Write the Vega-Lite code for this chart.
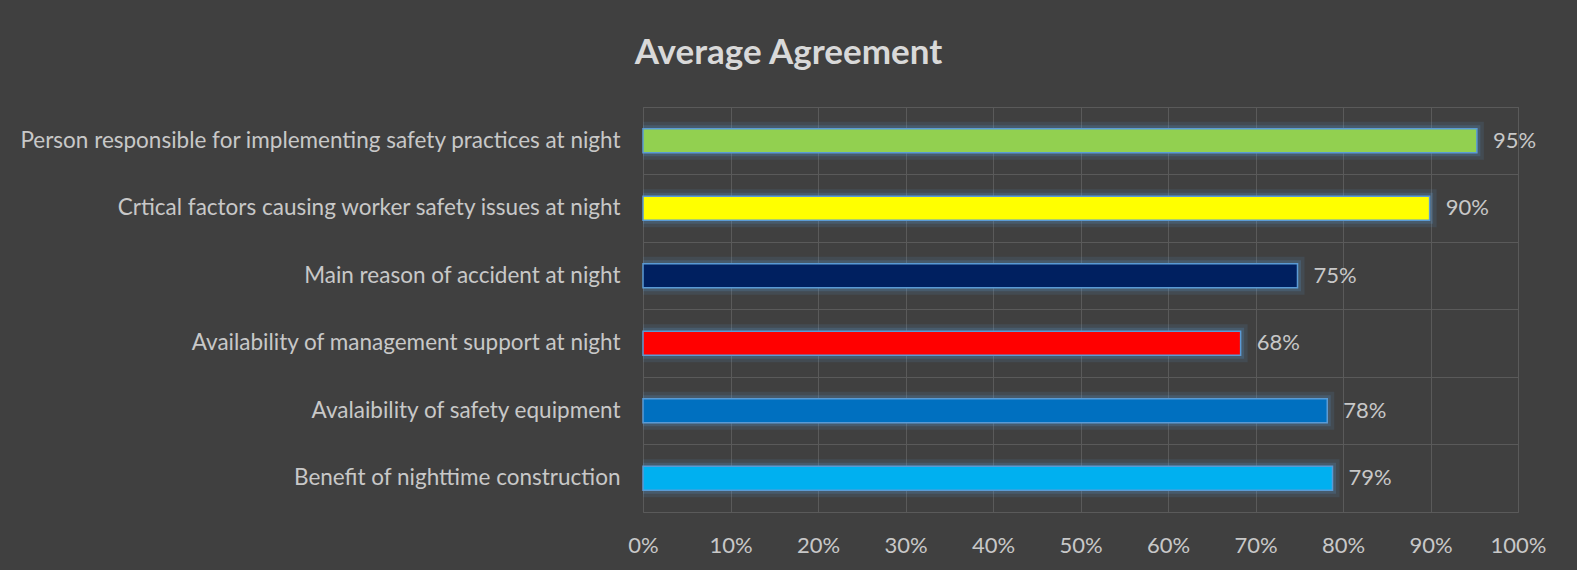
{
  "$schema": "https://vega.github.io/schema/vega-lite/v6.json",
  "width": 875,
  "height": 405,
  "autosize": {"type": "none"},
  "padding": {"left": 643, "top": 107, "right": 59, "bottom": 58},
  "background": "#404040",
  "title": {
    "text": "Average Agreement",
    "anchor": "middle",
    "frame": "group",
    "dx": -292,
    "offset": 8,
    "baseline": "alphabetic",
    "fontSize": 35,
    "font": "Lato",
    "fontWeight": "bold",
    "color": "#d9d9d9"
  },
  "config": {
    "view": {"stroke": "#5a5a5a", "strokeWidth": 1},
    "font": "Lato"
  },
  "data": {
    "values": [
      {"item": "Person responsible for implementing safety practices at night", "value": 0.953},
      {"item": "Crtical factors causing worker safety issues at night", "value": 0.899},
      {"item": "Main reason of accident at night", "value": 0.748},
      {"item": "Availability of management support at night", "value": 0.683},
      {"item": "Avalaibility of safety equipment", "value": 0.782},
      {"item": "Benefit of nighttime construction", "value": 0.788}
    ]
  },
  "encoding": {
    "y": {
      "field": "item",
      "type": "nominal",
      "sort": null,
      "title": null,
      "scale": {"paddingInner": 0, "paddingOuter": 0},
      "axis": {
        "domain": false,
        "ticks": false,
        "grid": true,
        "bandPosition": 0,
        "gridColor": "#5a5a5a",
        "gridWidth": 1,
        "labelPadding": 23,
        "labelFontSize": 22.5,
        "labelFont": "Lato",
        "labelColor": "#c8c8c8",
        "labelLimit": 800
      }
    },
    "x": {
      "field": "value",
      "type": "quantitative",
      "title": null,
      "scale": {"domain": [0, 1]},
      "axis": {
        "values": [0, 0.1, 0.2, 0.3, 0.4, 0.5, 0.6, 0.7, 0.8, 0.9, 1],
        "format": ".0%",
        "domain": false,
        "ticks": false,
        "grid": true,
        "gridColor": "#5a5a5a",
        "gridWidth": 1,
        "labelFlush": false,
        "labelPadding": 23,
        "labelFontSize": 22,
        "labelFont": "Lato",
        "labelColor": "#c8c8c8"
      }
    }
  },
  "layer": [
    {
      "mark": {"type": "bar", "height": {"band": 0.356}, "fill": null, "stroke": "#5b9bd5", "strokeWidth": 14, "strokeOpacity": 0.12, "clip": true}
    },
    {
      "mark": {"type": "bar", "height": {"band": 0.356}, "fill": null, "stroke": "#5b9bd5", "strokeWidth": 7, "strokeOpacity": 0.2, "clip": true}
    },
    {
      "mark": {"type": "bar", "height": {"band": 0.356}, "stroke": "#5b9bd5", "strokeWidth": 1.5},
      "encoding": {
        "color": {
          "field": "item",
          "type": "nominal",
          "legend": null,
          "scale": {
            "domain": [
              "Person responsible for implementing safety practices at night",
              "Crtical factors causing worker safety issues at night",
              "Main reason of accident at night",
              "Availability of management support at night",
              "Avalaibility of safety equipment",
              "Benefit of nighttime construction"
            ],
            "range": ["#92d050", "#ffff00", "#002060", "#ff0000", "#0070c0", "#00b0f0"]
          }
        }
      }
    },
    {
      "mark": {"type": "text", "align": "left", "baseline": "middle", "dx": 16, "fontSize": 22, "font": "Lato", "color": "#c8c8c8"},
      "encoding": {
        "text": {"field": "value", "type": "quantitative", "format": ".0%"}
      }
    }
  ]
}
